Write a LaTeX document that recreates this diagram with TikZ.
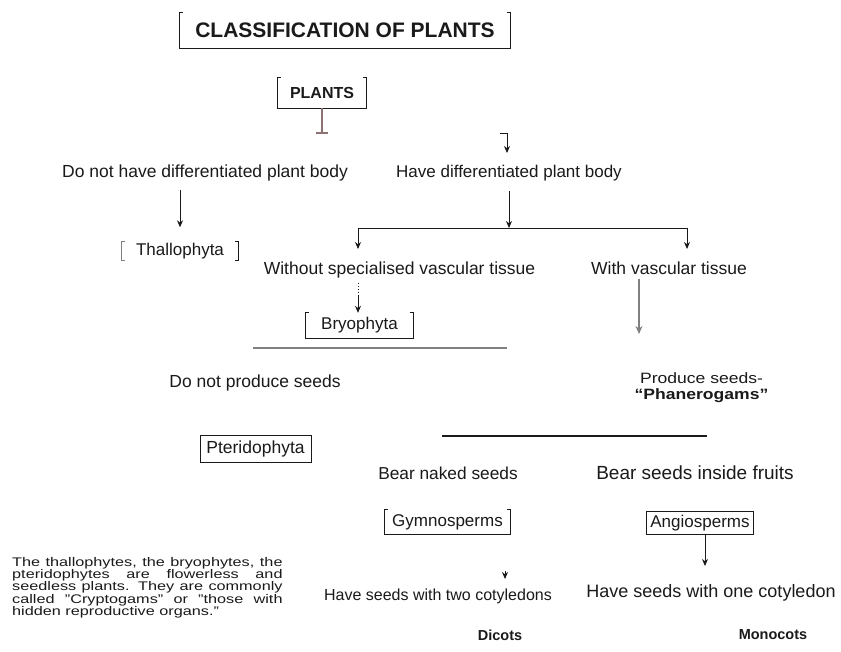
\documentclass[tikz,border=0pt]{standalone}
\usepackage{fontspec}
\setmainfont{Liberation Sans}
\usepackage{graphicx}
\usetikzlibrary{arrows.meta}
\definecolor{ink}{HTML}{1A1A1A}
\definecolor{gline}{HTML}{808080}
\definecolor{brn}{HTML}{8C7272}
\newcommand\fs[1]{\fontsize{#1}{#1}\selectfont}
\newcommand\wide[1]{\scalebox{1.17}[1]{#1}}
\tikzset{
  lbl/.style={text=ink, inner sep=0pt},
  arr/.style={draw=ink, line width=0.9pt, -{Stealth[length=7pt,width=6pt]}},
  garr/.style={draw=gline, line width=2pt, -{Stealth[length=8pt,width=7pt]}},
  ln/.style={draw=ink, line width=0.9pt},
  gln/.style={draw=gline, line width=1.6pt},
  holder/.style={inner sep=0pt, text=ink},
  fullbox/.style={draw=ink, line width=1pt, inner sep=0pt, text=ink},
  brk/.style={draw=ink, line width=1.2pt},
}
\newcommand\bracketbox[1]{\draw[brk] ([xshift=3pt]#1.north west) -- (#1.north west) -- (#1.south west) -- (#1.south east) -- (#1.north east) -- ([xshift=-3pt]#1.north east);}
\newcommand\openbrackets[1]{\draw[brk,draw=gline] ([xshift=3pt]#1.north west) -- (#1.north west) -- (#1.south west) -- ([xshift=3pt]#1.south west);
  \draw[brk] ([xshift=-3pt]#1.north east) -- (#1.north east) -- (#1.south east) -- ([xshift=-3pt]#1.south east);}
\begin{document}
\begin{tikzpicture}[x=1pt,y=-1pt]
\useasboundingbox (0,0) rectangle (841,652);
\fill[white] (0,0) rectangle (841,652);

% boxes
\node[holder, minimum width=330pt, minimum height=35pt, font=\fs{21}\bfseries] (title) at (345,30.5) {CLASSIFICATION OF PLANTS};
\bracketbox{title}
\node[holder, minimum width=88pt, minimum height=30pt, font=\fs{16}\bfseries] (plants) at (322,93) {PLANTS};
\bracketbox{plants}
\node[holder, minimum width=116pt, minimum height=19pt, font=\fs{17}] (thal) at (180,251) {Thallophyta};
\openbrackets{thal}
\node[holder, minimum width=107pt, minimum height=25pt, font=\fs{17}] (bryo) at (359.5,325.5) {Bryophyta};
\bracketbox{bryo}
\node[fullbox, minimum width=111pt, minimum height=27pt, font=\fs{17.5}] (pter) at (255.5,448.5) {Pteridophyta};
\node[holder, minimum width=125pt, minimum height=24pt, font=\fs{17}] (gymno) at (447.5,522) {Gymnosperms};
\bracketbox{gymno}
\node[fullbox, minimum width=107pt, minimum height=23pt, font=\fs{17}] (angio) at (700,523) {Angiosperms};

% labels
\node[lbl, font=\fs{17.5}] (dnh) at (205,173) {Do not have differentiated plant body};
\node[lbl, font=\fs{17}] (hd) at (509,173) {Have differentiated plant body};
\node[lbl, font=\fs{17.5}] (wos) at (399.5,270) {Without specialised vascular tissue};
\node[lbl, font=\fs{17.5}] (wvt) at (669,268) {With vascular tissue};
\node[lbl, font=\fs{17.5}] (dnp) at (255,383) {Do not produce seeds};
\node[lbl, font=\fs{15}] (ps) at (701.5,378) {\wide{Produce seeds-}};
\node[lbl, font=\fs{15}\bfseries] (phan) at (701.5,396) {\wide{“Phanerogams”}};
\node[lbl, font=\fs{17.3}] (bns) at (448,473) {Bear naked seeds};
\node[lbl, font=\fs{19}] (bsf) at (695,473) {Bear seeds inside fruits};
\node[lbl, font=\fs{16}] (two) at (438,596) {Have seeds with two cotyledons};
\node[lbl, font=\fs{18}] (one) at (711,593) {Have seeds with one cotyledon};
\node[lbl, font=\fs{14.5}\bfseries] (dic) at (500,635) {Dicots};
\node[lbl, font=\fs{14.5}\bfseries] (mon) at (773,635) {Monocots};
\node[lbl, anchor=north west] (para) at (12,557)
{\scalebox{1.3}[1]{\parbox{208pt}{\fontsize{12.5}{12.3}\selectfont The thallophytes, the bryophytes, the\linebreak pteridophytes are flowerless and\linebreak seedless plants. They are commonly\linebreak called "Cryptogams" or "those with\linebreak hidden reproductive organs."}}};

% connectors
\coordinate (pbar) at (322,134);
\draw[brn, line width=1.6pt, -{Bar[width=12pt,line width=1.6pt]}] (plants.south) -- (pbar);
\coordinate (hk) at (500,133);
\coordinate (hkend) at (507,153);
\draw[arr] (hk) -| (hkend);

\draw[arr, shorten <=9pt, shorten >=14pt] (dnh.south -| thal.north) -- (thal.north);

\coordinate (jc) at (509,228);
\coordinate (jl) at (358,228);
\coordinate (jr) at (687,228);
\coordinate (wosArr) at (358,249);
\coordinate (wvtArr) at (687,249);
\draw[arr, shorten <=10pt] (hd.south -| jc) -- (jc);
\draw[ln] (jl) -- (jr);
\draw[arr] (jl) -- (wosArr);
\draw[arr] (jr) -- (wvtArr);

\coordinate (dtop) at (358,283);
\coordinate (dmid) at (358,296);
\draw[ink, line width=0.9pt, dotted] (dtop) -- (dmid);
\draw[arr] (dmid) -- (bryo.north -| dmid);

\coordinate (l1a) at (253,348);
\coordinate (l1b) at (507,348);
\draw[gln] (l1a) -- (l1b);

\coordinate (gaEnd) at (639,334);
\draw[garr, shorten <=4pt] (wvt.south -| gaEnd) -- (gaEnd);

\coordinate (l2a) at (442,436);
\coordinate (l2b) at (707,436);
\draw[ln, line width=1.2pt] (l2a) -- (l2b);

\coordinate (angArr) at (705,566);
\draw[arr] (angio.south -| angArr) -- (angArr);

\coordinate (tkA) at (505,571);
\coordinate (tkB) at (505,579);
\draw[arr] (tkA) -- (tkB);
\end{tikzpicture}
\end{document}
